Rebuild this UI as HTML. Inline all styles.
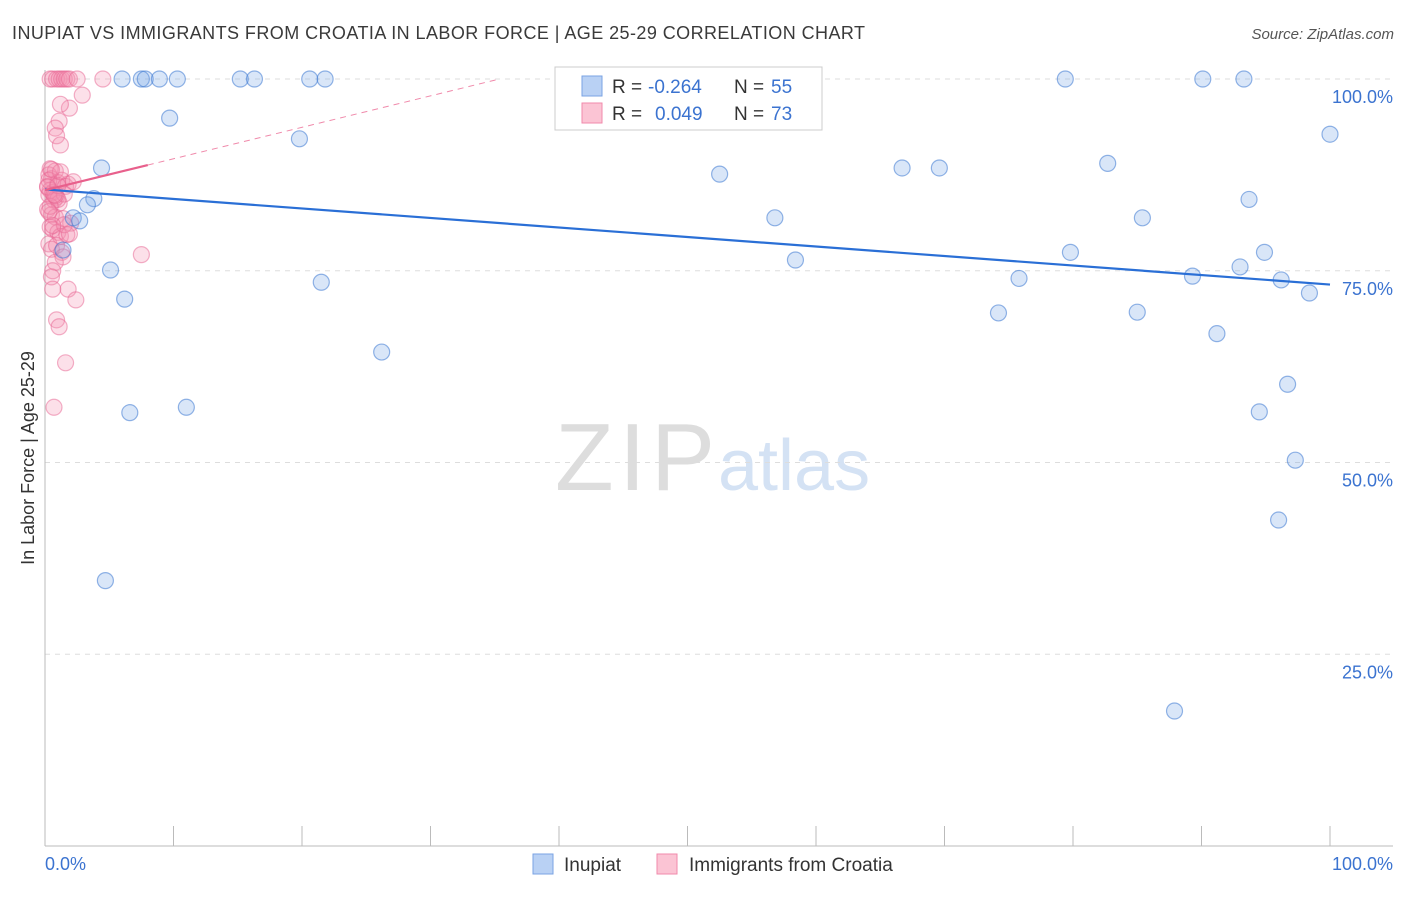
<!DOCTYPE html>
<html><head><meta charset="utf-8"><style>
body{margin:0;background:#fff;font-family:"Liberation Sans",sans-serif;}
svg text{font-family:"Liberation Sans",sans-serif;}
</style></head><body>
<svg width="1406" height="892">
<text x="12" y="39" font-size="18" fill="#3a3a3a" textLength="853">INUPIAT VS IMMIGRANTS FROM CROATIA IN LABOR FORCE | AGE 25-29 CORRELATION CHART</text>
<text x="1394" y="39" font-size="15" fill="#555" font-style="italic" text-anchor="end">Source: ZipAtlas.com</text>
<text x="555" y="490" font-size="96" fill="#ddd" textLength="160" font-family="Liberation Serif">ZIP</text>
<text x="718" y="490" font-size="72" fill="#d4e2f4">atlas</text>
<g id="grid"></g><g id="axes"></g><g id="pts"></g><g id="trend"></g>
<text x="34" y="458" font-size="18" fill="#333" text-anchor="middle" transform="rotate(-90 34 458)">In Labor Force | Age 25-29</text>
<text x="45" y="870" font-size="18" fill="#3b73d0">0.0%</text>
<text x="1393" y="870" font-size="18" fill="#3b73d0" text-anchor="end">100.0%</text>
<g>
<rect x="555" y="67" width="267" height="63" fill="#fff" stroke="#ccc"/>
<rect x="582" y="76" width="20" height="20" fill="#b9d1f4" stroke="#7aa3e3"/>
<rect x="582" y="103" width="20" height="20" fill="#fbc4d4" stroke="#f08aab"/>
<text x="612" y="93" font-size="19" fill="#333">R =</text>
<text x="648" y="93" font-size="19" fill="#3b73d0">-0.264</text>
<text x="734" y="93" font-size="19" fill="#333">N =</text>
<text x="771" y="93" font-size="19" fill="#3b73d0">55</text>
<text x="612" y="120" font-size="19" fill="#333">R =</text>
<text x="655" y="120" font-size="19" fill="#3b73d0">0.049</text>
<text x="734" y="120" font-size="19" fill="#333">N =</text>
<text x="771" y="120" font-size="19" fill="#3b73d0">73</text>
</g>
<g><rect x="533" y="854" width="20" height="20" fill="#b9d1f4" stroke="#7aa3e3"/><text x="564" y="871" font-size="19" fill="#333">Inupiat</text></g>
<g><rect x="657" y="854" width="20" height="20" fill="#fbc4d4" stroke="#f08aab"/><text x="689" y="871" font-size="19" fill="#333">Immigrants from Croatia</text></g>
</svg>
<script>
const yTicks=[100,75,50,25];
const yTickLabels=["100.0%","75.0%","50.0%","25.0%"];
const blueX=[6.0,7.5,7.8,8.9,10.3,15.2,16.3,20.6,21.8,79.4,90.1,93.3,9.7,19.8,4.4,100,52.5,66.7,69.6,82.7,3.8,3.3,2.2,2.7,1.4,56.8,85.4,93.7,5.1,6.2,21.5,58.4,79.8,94.9,75.8,89.3,93.0,96.2,98.4,74.2,85.0,91.2,26.2,6.6,11.0,96.7,94.5,97.3,96.0,4.7,87.9];
const blueY=[100,100,100,100,100,100,100,100,100,100,100,100,94.9,92.2,88.4,92.8,87.6,88.4,88.4,89.0,84.4,83.6,81.9,81.5,77.7,81.9,81.9,84.3,75.1,71.3,73.5,76.4,77.4,77.4,74.0,74.3,75.5,73.8,72.1,69.5,69.6,66.8,64.4,56.5,57.2,60.2,56.6,50.3,42.5,34.6,17.6];
const pinkX=[0.4,0.6,0.9,1.1,1.3,1.5,1.7,1.9,2.5,4.5,2.9,1.9,1.2,1.1,0.8,0.9,1.2,0.4,0.3,0.5,0.8,1.0,0.2,0.4,0.6,1.3,1.6,1.8,2.2,0.3,0.7,0.9,1.1,1.5,0.2,0.5,0.8,1.4,2.0,0.4,0.6,1.0,1.2,1.7,0.3,0.5,0.9,1.3,1.4,0.8,0.6,0.5,1.8,2.4,0.9,1.1,1.6,0.6,0.7,7.5,0.3,0.2,1.0,1.5,1.9,0.4,0.3,0.6,0.8,1.0,1.2,0.5,0.7];
const pinkY=[100,100,100,100,100,100,100,100,100,100,97.9,96.2,96.7,94.5,93.6,92.6,91.4,88.3,87.5,87.0,88.0,86.5,86.0,85.5,85.2,86.8,86.0,86.3,86.6,84.9,84.2,84.6,83.8,85.0,83.0,82.3,82.0,81.8,81.2,80.7,80.4,80.0,79.5,79.7,78.5,77.8,78.3,77.4,76.8,76.1,75.0,74.2,72.6,71.2,68.6,67.7,63.0,72.6,57.2,77.1,86.8,85.9,84.3,81.0,79.8,83.4,82.7,80.9,84.8,86.1,87.9,88.2,84.9];
const blueTrend=[85.6,73.2];
const pinkTrend=[85.5,0.41];
const X=v=>45+v*12.85, Y=v=>846-v*7.67;
const ns="http://www.w3.org/2000/svg";
function mk(t,a,p){const e=document.createElementNS(ns,t);for(const k in a)e.setAttribute(k,a[k]);p.appendChild(e);return e;}
const grid=document.getElementById('grid'),axes=document.getElementById('axes'),pts=document.getElementById('pts'),tr=document.getElementById('trend');
yTicks.forEach((t,i)=>{const l=mk('line',{x1:45,x2:1393,y1:Y(t),y2:Y(t),stroke:'#ddd','stroke-dasharray':'5,5'},grid);


const tx=mk('text',{x:1393,y:Y(t)+24,'font-size':18,fill:'#3b73d0','text-anchor':'end'},grid);tx.textContent=yTickLabels[i];

});
mk('line',{x1:45,x2:1393,y1:846,y2:846,stroke:'#bbb'},axes);
mk('line',{x1:45,x2:45,y1:70,y2:846,stroke:'#bbb'},axes);
for(let i=1;i<=10;i++){const l=mk('line',{x1:X(i*10),x2:X(i*10),y1:826,y2:846,stroke:'#bbb'},axes);

}
pinkX.forEach((x,i)=>{const c=mk('circle',{cx:X(x),cy:Y(pinkY[i]),r:8,fill:'rgba(244,143,177,0.28)',stroke:'rgba(232,100,145,0.5)','stroke-width':1.2},pts);

});
blueX.forEach((x,i)=>{const c=mk('circle',{cx:X(x),cy:Y(blueY[i]),r:8,fill:'rgba(120,165,230,0.28)',stroke:'rgba(60,120,210,0.55)','stroke-width':1.2},pts);

});
let l=mk('line',{x1:X(0),y1:Y(blueTrend[0]),x2:X(100),y2:Y(blueTrend[1]),stroke:'#2a6fd6','stroke-width':2.2},tr);


const pEnd=(100-pinkTrend[0])/pinkTrend[1];
l=mk('line',{x1:X(8),y1:Y(pinkTrend[0]+8*pinkTrend[1]),x2:X(pEnd),y2:Y(100),stroke:'#f08aab','stroke-width':1,'stroke-dasharray':'6,5'},tr);


l=mk('line',{x1:X(0),y1:Y(pinkTrend[0]),x2:X(8),y2:Y(pinkTrend[0]+8*pinkTrend[1]),stroke:'#e8608c','stroke-width':2.2},tr);


</script>
</body></html>
